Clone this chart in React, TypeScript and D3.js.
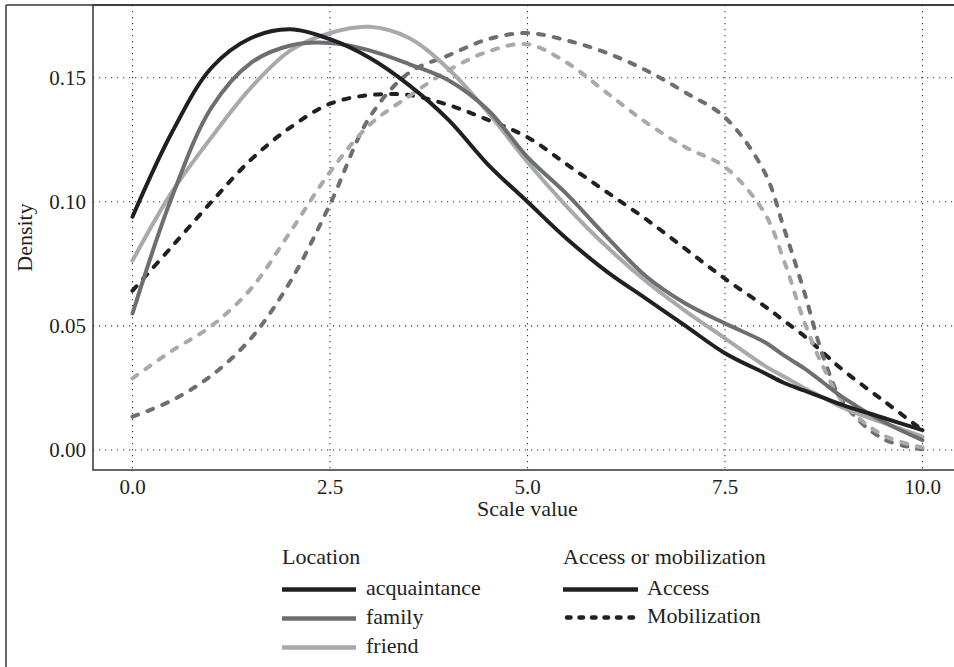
import React, { useEffect, useRef } from "react";
import * as d3 from "d3";

// scale values where the densities were read
const scaleValues = [0, 0.5, 1, 1.5, 2, 2.5, 3, 3.5, 4, 4.5, 5, 5.5, 6, 6.5, 7, 7.5, 8, 8.25, 8.5, 8.75, 9, 9.5, 10];

// Access (solid)
const acquaintanceAccess = [0.094, 0.128, 0.154, 0.166, 0.1695, 0.1655, 0.158, 0.147, 0.133, 0.115, 0.1, 0.085, 0.072, 0.061, 0.05, 0.039, 0.031, 0.027, 0.024, 0.021, 0.018, 0.013, 0.008];
const familyAccess = [0.055, 0.102, 0.138, 0.156, 0.163, 0.164, 0.161, 0.1555, 0.149, 0.137, 0.118, 0.103, 0.086, 0.07, 0.059, 0.051, 0.0435, 0.038, 0.033, 0.027, 0.021, 0.0115, 0.004];
const friendAccess = [0.0763, 0.104, 0.126, 0.146, 0.161, 0.168, 0.1705, 0.166, 0.1535, 0.136, 0.116, 0.098, 0.082, 0.068, 0.056, 0.045, 0.034, 0.0295, 0.025, 0.021, 0.017, 0.011, 0.0054];

// Mobilization (dashed)
const acquaintanceMobilization = [0.0642, 0.082, 0.1, 0.117, 0.13, 0.1395, 0.143, 0.143, 0.139, 0.133, 0.126, 0.115, 0.104, 0.093, 0.081, 0.069, 0.058, 0.052, 0.046, 0.039, 0.032, 0.02, 0.008];
const familyMobilization = [0.0134, 0.02, 0.03, 0.045, 0.068, 0.099, 0.134, 0.152, 0.159, 0.1655, 0.168, 0.165, 0.16, 0.153, 0.144, 0.134, 0.112, 0.089, 0.064, 0.037, 0.019, 0.0045, 0.0003];
const friendMobilization = [0.0289, 0.04, 0.05, 0.065, 0.088, 0.112, 0.131, 0.1425, 0.153, 0.1605, 0.1635, 0.156, 0.144, 0.132, 0.122, 0.114, 0.0955, 0.076, 0.052, 0.033, 0.019, 0.006, 0.001];

const xTicks = [0, 2.5, 5, 7.5, 10];
const yTicks = [0, 0.05, 0.1, 0.15];

const locations = ["acquaintance", "family", "friend"];
const accessTypes = ["Access", "Mobilization"];
const locationColors = ["#231f20", "#6d6e71", "#a7a9ac"];

const FONT = "'Liberation Serif', 'Times New Roman', serif";
const INK = "#231f20";

export default function App() {
  const ref = useRef<SVGSVGElement>(null);

  useEffect(() => {
    const svg = d3.select(ref.current);
    svg.selectAll("*").remove();

    const left = 93, right = 962, top = 5, bottom = 470;
    const x = d3.scaleLinear().domain([-0.5, 10.5]).range([left, right]);
    const y = d3.scaleLinear().domain([-0.00806, 0.17929]).range([bottom, top]);

    const color = d3.scaleOrdinal<string, string>().domain(locations).range(locationColors);

    const series = [
      { loc: "acquaintance", type: "Mobilization", values: acquaintanceMobilization },
      { loc: "family", type: "Mobilization", values: familyMobilization },
      { loc: "friend", type: "Mobilization", values: friendMobilization },
      { loc: "friend", type: "Access", values: friendAccess },
      { loc: "family", type: "Access", values: familyAccess },
      { loc: "acquaintance", type: "Access", values: acquaintanceAccess },
    ];

    // outer frame (left side)
    svg.append("line").attr("x1", 6).attr("x2", 6).attr("y1", 5).attr("y2", 667)
      .attr("stroke", "#333").attr("stroke-width", 1.5);

    // grid
    const grid = svg.append("g");
    grid.selectAll(".vg").data(xTicks).join("line").attr("class", "vg")
      .attr("x1", d => x(d)).attr("x2", d => x(d)).attr("y1", top).attr("y2", bottom)
      .attr("stroke", "#333").attr("stroke-width", 1.1).attr("stroke-dasharray", "1.2,4.8");
    grid.selectAll(".hg").data(yTicks).join("line").attr("class", "hg")
      .attr("x1", left).attr("x2", right).attr("y1", d => y(d)).attr("y2", d => y(d))
      .attr("stroke", "#333").attr("stroke-width", 1.1).attr("stroke-dasharray", "1.2,4.8");

    // density curves
    const line = d3.line<number>()
      .x((_, i) => x(scaleValues[i]))
      .y(d => y(d))
      .curve(d3.curveCatmullRom.alpha(0.5));

    svg.append("g").selectAll("path").data(series).join("path")
      .attr("d", d => line(d.values))
      .attr("fill", "none")
      .attr("stroke", d => color(d.loc))
      .attr("stroke-width", 4)
      .attr("stroke-linecap", "round")
      .attr("stroke-dasharray", d => d.type === "Mobilization" ? "6,10" : null);

    // panel border + top frame line
    svg.append("rect").attr("x", left).attr("y", top).attr("width", right - left).attr("height", bottom - top)
      .attr("fill", "none").attr("stroke", "#333").attr("stroke-width", 1.5);
    svg.append("line").attr("x1", 6).attr("x2", 954).attr("y1", top).attr("y2", top)
      .attr("stroke", "#333").attr("stroke-width", 1.5);

    // tick labels
    svg.append("g").selectAll("text").data(xTicks).join("text")
      .attr("x", d => x(d)).attr("y", 494)
      .attr("text-anchor", "middle").attr("font-size", 21).attr("font-family", FONT).attr("fill", INK)
      .text(d => d3.format(".1f")(d));
    svg.append("g").selectAll("text").data(yTicks).join("text")
      .attr("x", 86).attr("y", d => y(d) + 7)
      .attr("text-anchor", "end").attr("font-size", 21).attr("font-family", FONT).attr("fill", INK)
      .text(d => d3.format(".2f")(d));

    // axis titles
    svg.append("text").attr("x", (left + right) / 2).attr("y", 516)
      .attr("text-anchor", "middle").attr("font-size", 22).attr("font-family", FONT).attr("fill", INK)
      .text("Scale value");
    svg.append("text").attr("transform", `translate(32, ${(top + bottom) / 2}) rotate(-90)`)
      .attr("text-anchor", "middle").attr("font-size", 22).attr("font-family", FONT).attr("fill", INK)
      .text("Density");

    // legends
    const legend1 = svg.append("g");
    legend1.append("text").attr("x", 282).attr("y", 564)
      .attr("font-size", 22).attr("font-family", FONT).attr("fill", INK).text("Location");
    const rows1 = legend1.selectAll(".row").data(locations).join("g").attr("class", "row")
      .attr("transform", (_, i) => `translate(0, ${589.5 + i * 29})`);
    rows1.append("line").attr("x1", 282).attr("x2", 356).attr("y1", 0).attr("y2", 0)
      .attr("stroke", d => color(d)).attr("stroke-width", 4.5);
    rows1.append("text").attr("x", 366).attr("y", 5)
      .attr("font-size", 22).attr("font-family", FONT).attr("fill", INK).text(d => d);

    const legend2 = svg.append("g");
    legend2.append("text").attr("x", 563).attr("y", 564)
      .attr("font-size", 22).attr("font-family", FONT).attr("fill", INK).text("Access or mobilization");
    const rows2 = legend2.selectAll(".row").data(accessTypes).join("g").attr("class", "row")
      .attr("transform", (_, i) => `translate(0, ${589.5 + i * 28})`);
    rows2.append("line")
      .attr("x1", d => d === "Access" ? 563 : 567).attr("x2", d => d === "Access" ? 638 : 642)
      .attr("y1", 0).attr("y2", 0)
      .attr("stroke", INK).attr("stroke-width", 4.5)
      .attr("stroke-linecap", d => d === "Access" ? "butt" : "round")
      .attr("stroke-dasharray", d => d === "Access" ? null : "3.5,9");
    rows2.append("text").attr("x", 647).attr("y", 5)
      .attr("font-size", 22).attr("font-family", FONT).attr("fill", INK).text(d => d);
  }, []);

  return (
    <svg ref={ref} width={954} height={667}
      style={{ position: "absolute", left: 0, top: 0, display: "block", background: "#fff" }} />
  );
}
